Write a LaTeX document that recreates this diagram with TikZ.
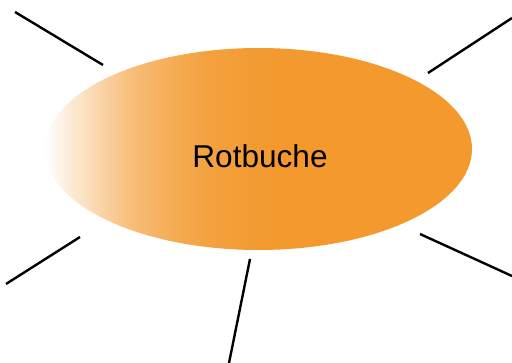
\documentclass[tikz,border=0pt]{standalone}
\usepackage{xcolor}
\usepackage{fontspec}
\setsansfont{Liberation Sans}
\usetikzlibrary{shapes.geometric, positioning}

\definecolor{beech}{RGB}{243,153,46}
\pgfdeclarehorizontalshading{beechfade}{100bp}{color(0bp)=(white); color(25bp)=(white);
  color(29bp)=(beech!26); color(35bp)=(beech!64); color(41bp)=(beech!85);
  color(45bp)=(beech!93); color(52bp)=(beech); color(100bp)=(beech)}

\begin{document}
\begin{tikzpicture}[x=1pt,y=-1pt,
                    ray/.style={draw=black,line width=2.4pt},
                    bubble/.style={ellipse,draw=none,shading=beechfade,inner sep=0pt,
                      minimum width=427pt,minimum height=202pt},
                    name label/.style={font=\sffamily\fontsize{31.6}{37}\selectfont,inner sep=0pt}]

  \useasboundingbox (0,0) rectangle (512,363);

  \node[bubble] (tree) at (258.5,149) {};
  \node[name label,anchor=base] (name) at (260,168) {Rotbuche};

  % free ends of the rays
  \coordinate (tl in) at (103,65);
  \coordinate (tl out) at (15,12);
  \coordinate (tr in) at (428,73);
  \coordinate (tr out) at (512,18);
  \coordinate (bl in) at (80,237);
  \coordinate (bl out) at (6,284);
  \coordinate (br in) at (420,234);
  \coordinate (br out) at (512,276);
  \coordinate (b in) at (250,259);
  \coordinate (b out) at (229,363);

  \path[ray]
    (tl in) edge (tl out)
    (tr in) edge (tr out)
    (bl in) edge (bl out)
    (br in) edge (br out)
    (b in) edge (b out);

\end{tikzpicture}
\end{document}
